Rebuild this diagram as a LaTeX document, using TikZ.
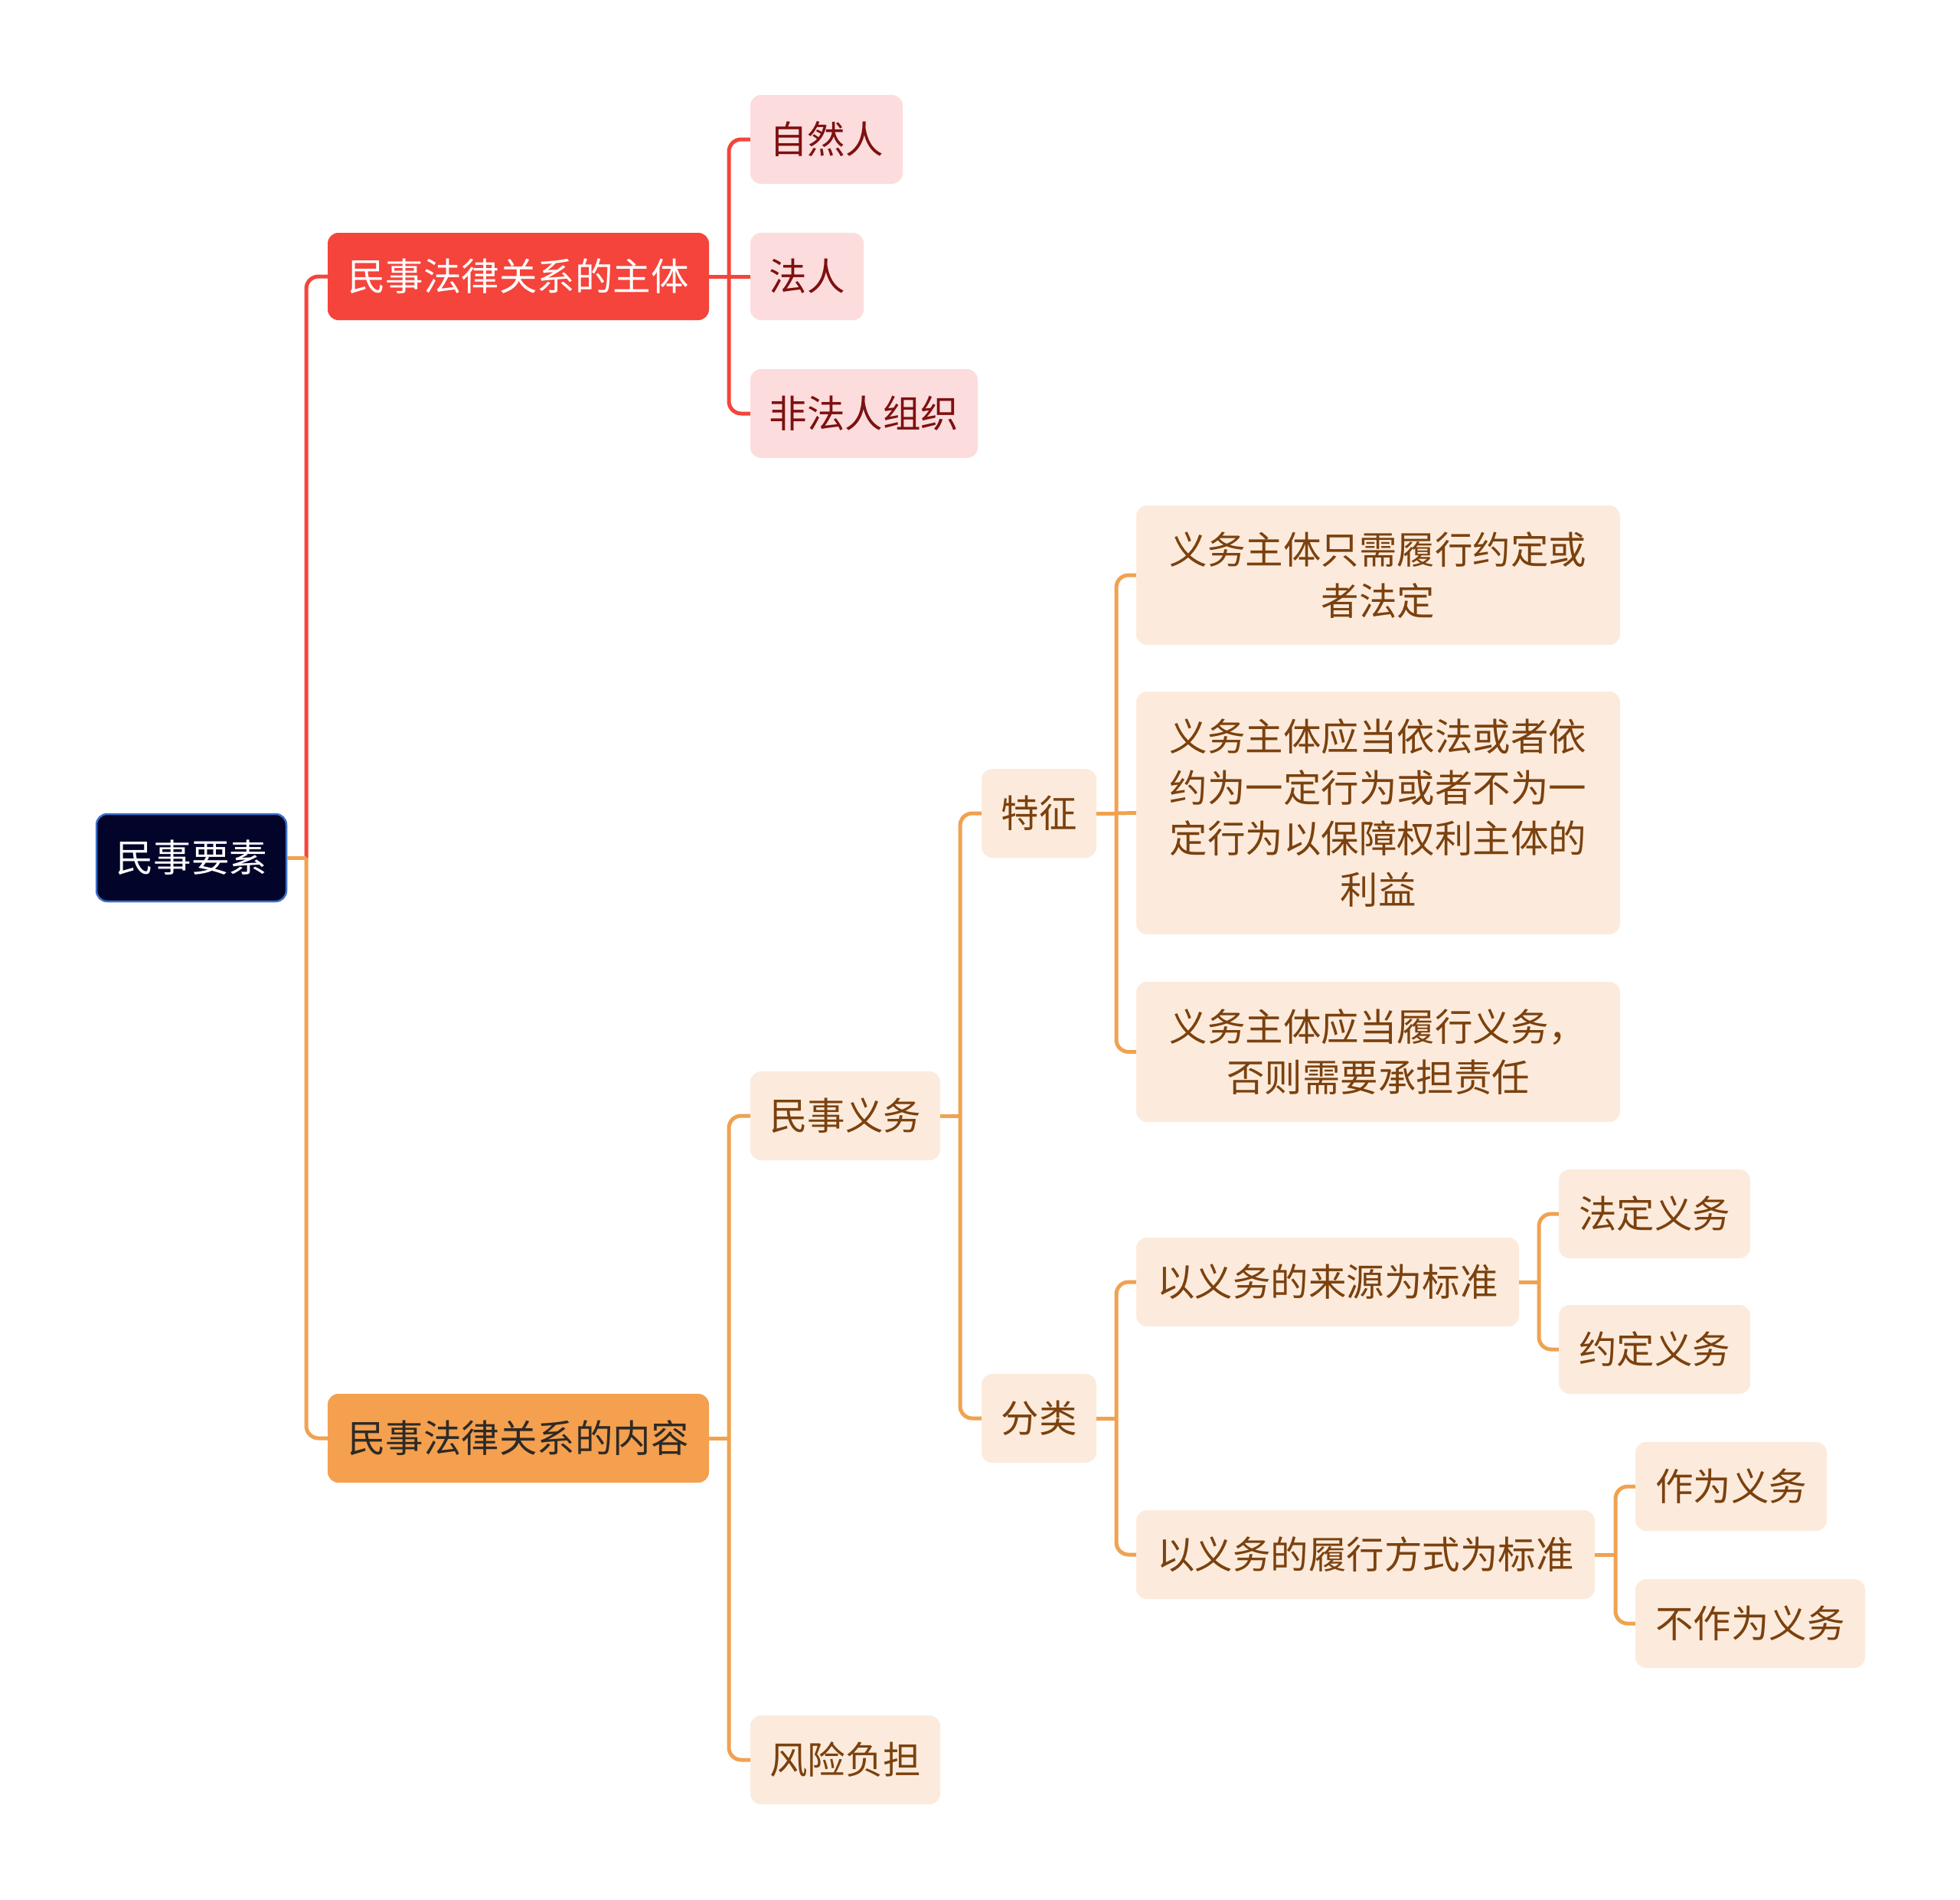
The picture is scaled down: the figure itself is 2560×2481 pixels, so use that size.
\documentclass[tikz,border=0pt]{standalone}
\usepackage{fontspec}
\setmainfont{Noto Sans CJK SC}
\definecolor{navy}{HTML}{03042A}
\definecolor{navyb}{HTML}{3A6FC8}
\definecolor{redc}{HTML}{F5443B}
\definecolor{pinkf}{HTML}{FCDCDC}
\definecolor{pinkt}{HTML}{7E1010}
\definecolor{orangec}{HTML}{F4A04E}
\definecolor{darkt}{HTML}{2E2A25}
\definecolor{peachf}{HTML}{FCEBDC}
\definecolor{peacht}{HTML}{7B410E}
\definecolor{orline}{HTML}{F0A250}
\begin{document}
\begin{tikzpicture}[x=1pt,y=-1pt,
  box/.style={rounded corners=14pt, inner sep=0pt, align=center,
    font=\fontsize{49.5}{66.5}\selectfont},
  rootbox/.style={box, fill=navy, draw=navyb, line width=2.5pt, text=white},
  redbox/.style={box, fill=redc, text=white},
  pinkbox/.style={box, fill=pinkf, text=pinkt},
  orbox/.style={box, fill=orangec, text=darkt},
  peachbox/.style={box, fill=peachf, text=peacht},
  redl/.style={draw=redc, line width=5pt},
  orl/.style={draw=orline, line width=5pt},
  rc/.style={rounded corners=16pt}]
\useasboundingbox[fill=white] (0,0) rectangle (2560,2481);

% nodes
\node[rootbox, minimum width=248pt, minimum height=114pt] (root) at (250,1120) {民事要素};
\node[redbox, minimum width=498pt, minimum height=114pt] (zt) at (677,361) {民事法律关系的主体};
\node[pinkbox, minimum width=199pt, minimum height=116pt] (zr) at (1079.5,182) {自然人};
\node[pinkbox, minimum width=148pt, minimum height=114pt] (fr) at (1054,361) {法人};
\node[pinkbox, minimum width=297pt, minimum height=116pt] (ff) at (1128.5,540) {非法人组织};
\node[orbox, minimum width=498pt, minimum height=116pt] (nr) at (677,1878) {民事法律关系的内容};
\node[peachbox, minimum width=248pt, minimum height=116pt] (yw) at (1104,1457) {民事义务};
\node[peachbox, minimum width=248pt, minimum height=116pt] (fx) at (1104,2298) {风险负担};
\node[peachbox, minimum width=150pt, minimum height=116pt] (tz) at (1357,1062) {特征};
\node[peachbox, minimum width=150pt, minimum height=116pt] (fl) at (1357,1852) {分类};
\node[peachbox, minimum width=632pt, minimum height=182pt] (a1) at (1800,751) {义务主体只需履行约定或\\者法定};
\node[peachbox, minimum width=632pt, minimum height=317pt] (a2) at (1800,1061.5) {义务主体应当依法或者依\\约为一定行为或者不为一\\定行为以保障权利主体的\\利益};
\node[peachbox, minimum width=632pt, minimum height=183pt] (a3) at (1800,1373.5) {义务主体应当履行义务，\\否则需要承担责任};
\node[peachbox, minimum width=500pt, minimum height=116pt] (ly) at (1734,1674) {以义务的来源为标准};
\node[peachbox, minimum width=250pt, minimum height=116pt] (fd) at (2161,1585) {法定义务};
\node[peachbox, minimum width=250pt, minimum height=116pt] (yd) at (2161,1762) {约定义务};
\node[peachbox, minimum width=599pt, minimum height=116pt] (lx) at (1783.5,2030) {以义务的履行方式为标准};
\node[peachbox, minimum width=250pt, minimum height=116pt] (zw) at (2261,1941) {作为义务};
\node[peachbox, minimum width=300pt, minimum height=116pt] (bz) at (2286,2120) {不作为义务};

% junction coordinates
\coordinate (t0) at (400,1120);
\coordinate (t1) at (952,361);
\coordinate (t2) at (952,1878);
\coordinate (t3) at (1254,1457);
\coordinate (t4) at (1458,1062);
\coordinate (t5) at (1458,1852);
\coordinate (t6) at (2010,1674);
\coordinate (t7) at (2110,2030);

% red branch
\draw[redl, rc] (t0) |- (zt.west);
\draw[redl] (zt.east) -- (t1);
\draw[redl, rc] (t1) |- (zr.west);
\draw[redl] (t1) -- (fr.west);
\draw[redl, rc] (t1) |- (ff.west);

% orange branch
\draw[orl, rc] (t0) |- (nr.west);
\draw[orl] (root.east) -- (t0);
\draw[orl] (nr.east) -- (t2);
\draw[orl, rc] (t2) |- (yw.west);
\draw[orl, rc] (t2) |- (fx.west);
\draw[orl] (yw.east) -- (t3);
\draw[orl, rc] (t3) |- (tz.west);
\draw[orl, rc] (t3) |- (fl.west);
\draw[orl] (tz.east) -- (t4);
\draw[orl, rc] (t4) |- (a1.west);
\draw[orl] (t4) -- (a2.west);
\draw[orl, rc] (t4) |- (a3.west);
\draw[orl] (fl.east) -- (t5);
\draw[orl, rc] (t5) |- (ly.west);
\draw[orl, rc] (t5) |- (lx.west);
\draw[orl] (ly.east) -- (t6);
\draw[orl, rc] (t6) |- (fd.west);
\draw[orl, rc] (t6) |- (yd.west);
\draw[orl] (lx.east) -- (t7);
\draw[orl, rc] (t7) |- (zw.west);
\draw[orl, rc] (t7) |- (bz.west);
\end{tikzpicture}
\end{document}
